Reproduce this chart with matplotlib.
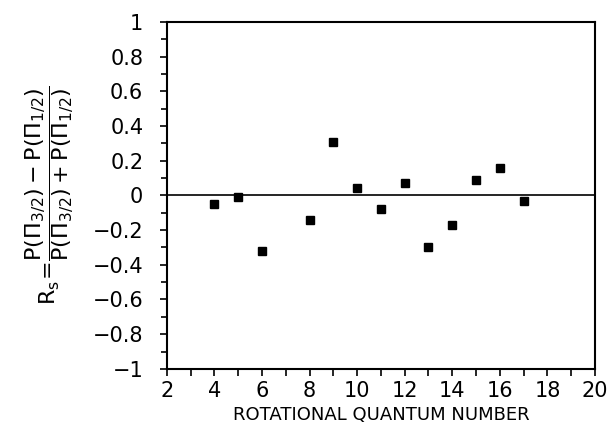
import matplotlib
matplotlib.use("Agg")
import matplotlib.pyplot as plt
from matplotlib.ticker import MultipleLocator

plt.rcParams['font.family'] = ['DejaVu Sans']
plt.rcParams['mathtext.fontset'] = 'dejavusans'

J = [4, 5, 6, 8, 9, 10, 11, 12, 13, 14, 15, 16, 17]
Rs = [-0.05, -0.01, -0.32, -0.14, 0.31, 0.04, -0.08, 0.07, -0.30, -0.17, 0.09, 0.16, -0.03]
yticks = [-1, -0.8, -0.6, -0.4, -0.2, 0, 0.2, 0.4, 0.6, 0.8, 1]
ylabels = ['\u22121', '\u22120.8', '\u22120.6', '\u22120.4', '\u22120.2', '0',
           '0.2', '0.4', '0.6', '0.8', '1']

fig = plt.figure(figsize=(6.09, 4.23), dpi=100)
ax = fig.add_axes([0.274, 0.128, 0.703, 0.820])

ax.axhline(0, color='black', lw=1.2, zorder=1)
ax.plot(J, Rs, 's', color='black', markersize=6, zorder=3)

ax.set_xlim(2, 20)
ax.set_ylim(-1, 1)
ax.xaxis.set_major_locator(MultipleLocator(2))
ax.xaxis.set_minor_locator(MultipleLocator(1))
ax.yaxis.set_minor_locator(MultipleLocator(0.1))
ax.set_yticks(yticks)
ax.set_yticklabels(ylabels)
ax.tick_params(which='major', direction='out', length=5, width=1.2, labelsize=15)
ax.tick_params(which='minor', direction='out', length=4, width=1.2)
ax.tick_params(axis='x', which='minor', length=5)
ax.tick_params(axis='y', which='major', pad=12)
ax.tick_params(axis='x', which='major', pad=4)
for s in ax.spines.values():
    s.set_linewidth(1.5)

ax.set_xlabel('ROTATIONAL QUANTUM NUMBER', fontsize=13, labelpad=3)
ax.set_ylabel(r'$\mathrm{R_s}\!=\!\dfrac{\mathrm{P(\Pi_{3/2})-P(\Pi_{1/2})}}{\mathrm{P(\Pi_{3/2})+P(\Pi_{1/2})}}$',
              fontsize=16, labelpad=12)

fig.savefig('out.png', dpi=100)
